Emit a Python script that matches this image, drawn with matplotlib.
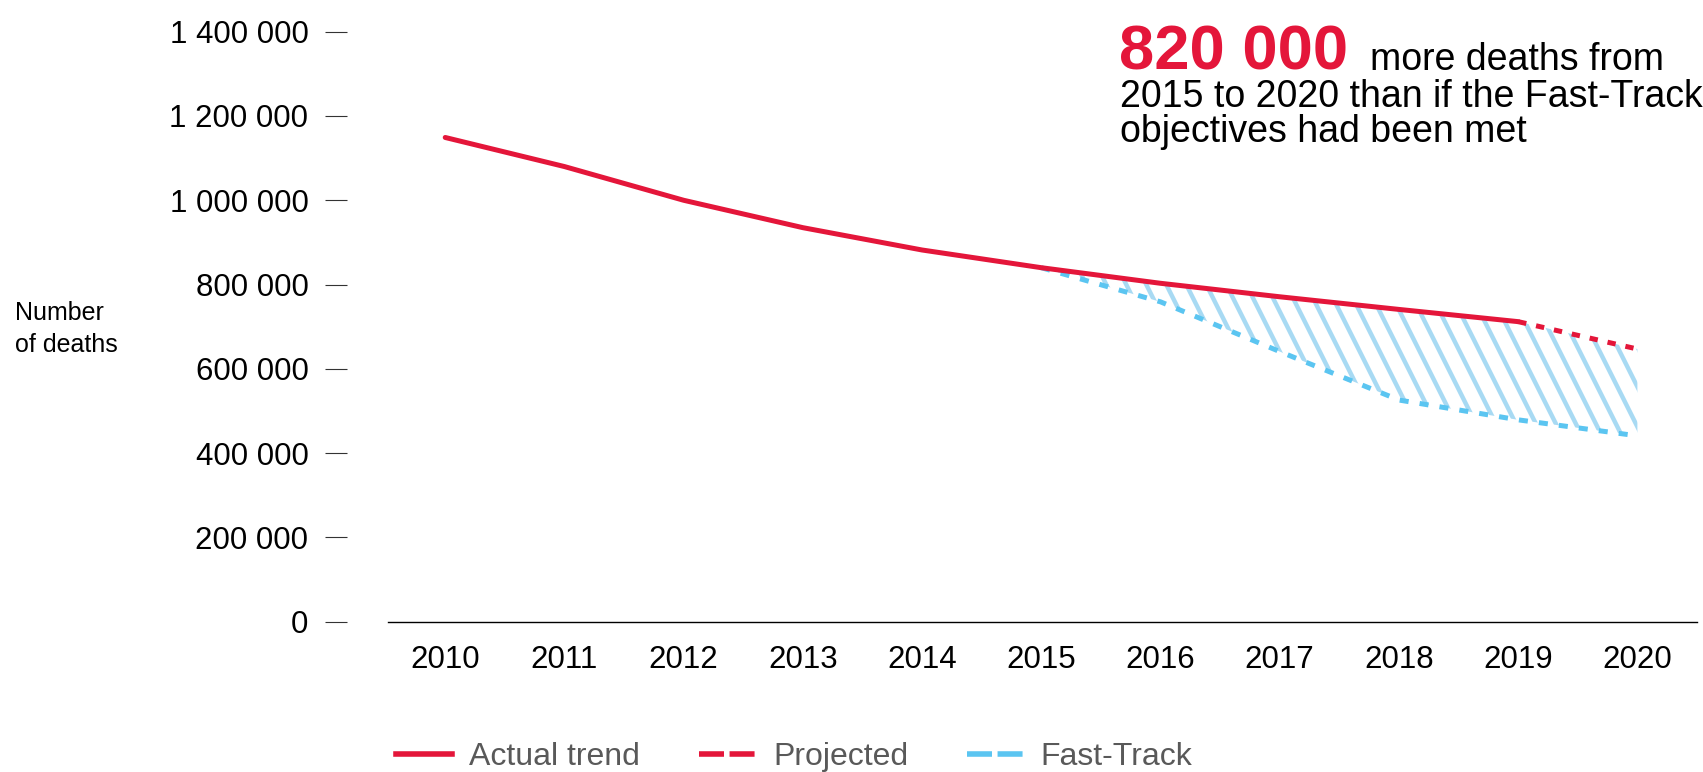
import numpy as np
import matplotlib
matplotlib.use("Agg")
import matplotlib.pyplot as plt
from matplotlib.lines import Line2D
from matplotlib.ticker import FuncFormatter

plt.rcParams['font.family'] = ['Liberation Sans', 'DejaVu Sans']
plt.rcParams['lines.scale_dashes'] = False

# Données
years_actual = [2010, 2011, 2012, 2013, 2014, 2015, 2016, 2017, 2018, 2019]
deaths_actual = [1149000, 1080000, 1000000, 935000, 882000, 840000, 803000, 771000, 741000, 712000]

years_proj = [2019, 2020]
deaths_proj = [712000, 647000]

years_ft = [2015, 2016, 2017, 2018, 2019, 2020]
deaths_ft = [840000, 759000, 641000, 526000, 479000, 441000]

yticks = [0, 200000, 400000, 600000, 800000, 1000000, 1200000, 1400000]
xticks = list(range(2010, 2021))

RED = '#e4163a'
BLUE = '#5bc5f1'
HATCH = '#a8daf3'
GREY = '#595959'

fig = plt.figure(figsize=(17.03, 7.72), dpi=100)
ax = fig.add_axes([388 / 1703, 1 - 621.7 / 772, 1309 / 1703, 590 / 772])

# zone hachurée entre la tendance et Fast-Track
upper = deaths_actual[5:] + deaths_proj[1:]
zone = ax.fill_between(years_ft, upper, deaths_ft, facecolor='none', edgecolor='none')
for x0 in np.arange(8.5, 18.0, 0.2):
    stripe, = ax.plot([x0, x0 + 1.4], [5.6, 2.8], transform=fig.dpi_scale_trans,
                      color=HATCH, lw=3.2, solid_capstyle='butt', zorder=1)
    stripe.set_clip_path(zone.get_paths()[0], ax.transData)

ax.plot(years_ft, deaths_ft, color=BLUE, lw=3.6, dashes=(6.5, 8), zorder=3)
ax.plot(years_proj, deaths_proj, color=RED, lw=3.6, dashes=(6, 7.2), zorder=4)
ax.plot(years_actual, deaths_actual, color=RED, lw=3.6, solid_capstyle='round', zorder=5)

ax.set_xlim(2009.52, 2020.5)
ax.set_ylim(0, 1400000)
ax.set_xticks(xticks)
ax.set_yticks(yticks)
ax.yaxis.set_major_formatter(FuncFormatter(lambda v, p: f"{int(v):,}".replace(",", " ")))

for s in ['top', 'right', 'left']:
    ax.spines[s].set_visible(False)
ax.spines['left'].set_position(('outward', 29.5))
ax.spines['bottom'].set_linewidth(1.0)

ax.tick_params(axis='x', length=0, pad=17, labelsize=22.5)
ax.tick_params(axis='y', length=15.8, width=0.8, color='#333333', pad=12, labelsize=22.5)

fig.text(15 / 1703, 1 - 320 / 772, "Number", fontsize=18, va='baseline')
fig.text(15 / 1703, 1 - 352 / 772, "of deaths", fontsize=18, va='baseline')

# annotation en haut à droite
fig.text(1119 / 1703, 1 - 70 / 772, "820 000", fontsize=45.5, fontweight='bold',
         color=RED, va='baseline')
fig.text(1370 / 1703, 1 - 70 / 772, "more deaths from", fontsize=27, va='baseline')
fig.text(1120 / 1703, 1 - 107 / 772, "2015 to 2020 than if the Fast-Track",
         fontsize=27, va='baseline')
fig.text(1120 / 1703, 1 - 142 / 772, "objectives had been met", fontsize=27, va='baseline')

handles = [
    Line2D([], [], color=RED, lw=4),
    Line2D([], [], color=RED, lw=4, dashes=(18, 4)),
    Line2D([], [], color=BLUE, lw=4, dashes=(18, 4)),
]
fig.legend(handles, ["Actual trend", "Projected", "Fast-Track"], loc='center',
           bbox_to_anchor=(794 / 1703, 1 - 757 / 772), ncol=3, frameon=False,
           fontsize=23, labelcolor=GREY, handlelength=1.75, handletextpad=0.56,
           columnspacing=1.84)

fig.savefig("out.png", dpi=100)
